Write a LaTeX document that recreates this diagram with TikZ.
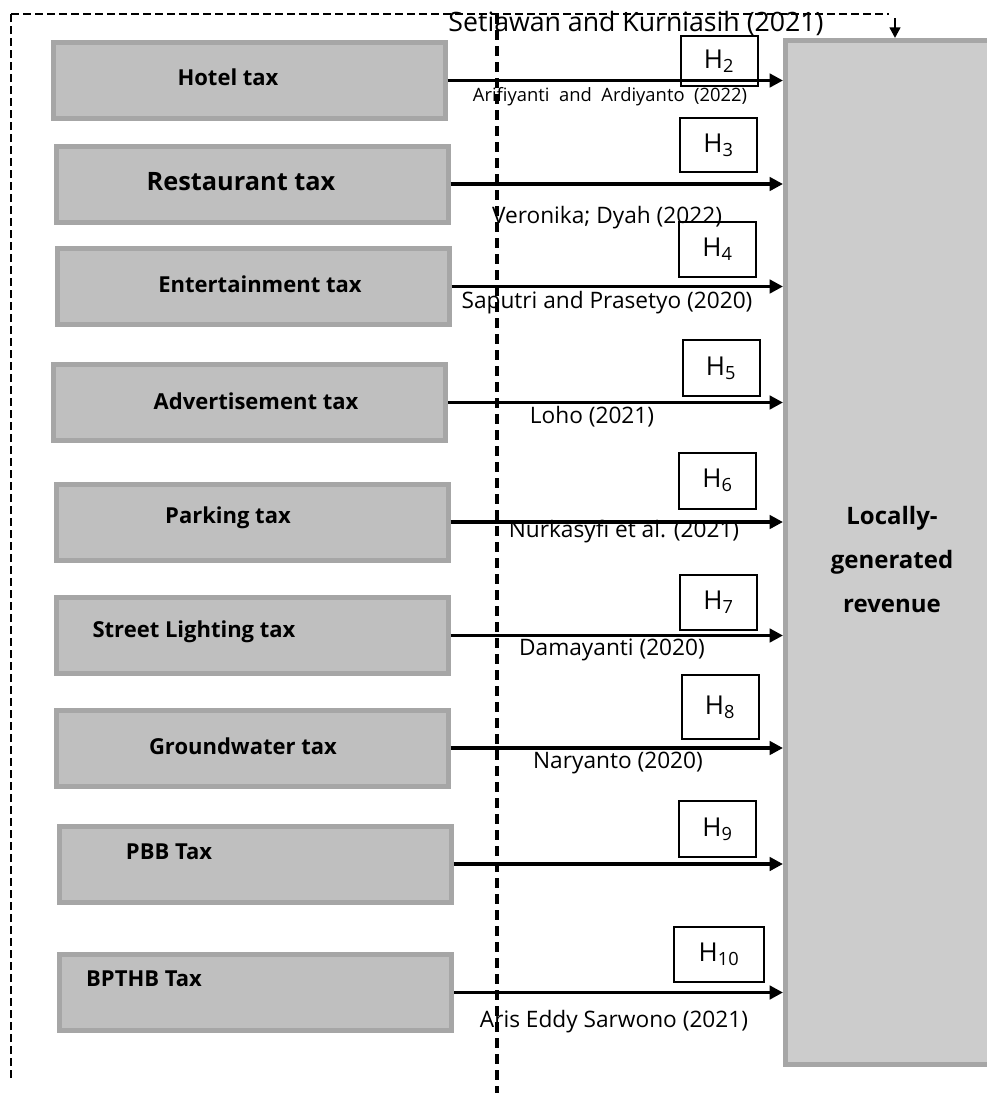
\documentclass[tikz,border=0pt]{standalone}
\usepackage{fontspec}
\setmainfont{Open Sans}
\usetikzlibrary{arrows.meta}
\definecolor{boxfill}{HTML}{BFBFBF}
\definecolor{boxline}{HTML}{A6A6A6}
\definecolor{bigfill}{HTML}{CCCCCC}
\begin{document}
\begin{tikzpicture}[x=0.75pt,y=-0.75pt]
        \tikzstyle{taxbox}=[rectangle,draw=boxline,fill=boxfill,line width=3.75pt,inner sep=0pt,minimum width=294pt,minimum height=57pt]
        \tikzstyle{taxlabel}=[inner sep=0pt,font=\fontsize{16.5}{19}\selectfont\bfseries]
        \tikzstyle{hypo}=[rectangle,draw=black,fill=white,line width=1.5pt,inner sep=0pt,minimum width=57.75pt,minimum height=41pt,font=\fontsize{19.5}{22}\selectfont]
        \tikzstyle{cite}=[inner sep=0pt,font=\fontsize{17}{20}\selectfont]
        \tikzstyle{link}=[draw,line width=2.5pt,-{Triangle[length=10pt,width=10pt]}]
        \useasboundingbox (0,0) rectangle (987,1093);
        % dependent variable
        \node [rectangle,draw=boxline,fill=bigfill,line width=3.75pt,minimum width=159pt,minimum height=768pt] (big) at (891.5,552.5) {};
        \node [align=center,inner sep=0pt,font=\fontsize{18}{33}\selectfont\bfseries] (biglabel) at (892,559) {Locally-\\generated\\revenue};
        % tax boxes
        \node [taxbox] (hotel) at (249,80.5) {};
        \node [taxbox] (resto) at (252,184) {};
        \node [taxbox] (enter) at (253,286.5) {};
        \node [taxbox] (adver) at (249.5,402.5) {};
        \node [taxbox] (park) at (252,522) {};
        \node [taxbox] (light) at (252,635.5) {};
        \node [taxbox] (ground) at (252,748) {};
        \node [taxbox] (pbb) at (255,864) {};
        \node [taxbox] (bpthb) at (255.5,992.5) {};
        \node [taxlabel] (hotell) at (228,77) {Hotel tax};
        \node [taxlabel,font=\fontsize{19}{22}\selectfont\bfseries] (restol) at (241,182) {Restaurant tax};
        \node [taxlabel] (enterl) at (260,284) {Entertainment tax};
        \node [taxlabel] (adverl) at (256,401) {Advertisement tax};
        \node [taxlabel] (parkl) at (228,518) {Parking tax};
        \node [taxlabel] (lightl) at (194,632) {Street Lighting tax};
        \node [taxlabel] (groundl) at (243,746) {Groundwater tax};
        \node [taxlabel] (pbbl) at (169,852) {PBB Tax};
        \node [taxlabel] (bpthbl) at (144,979) {BPTHB Tax};
        % hypotheses
        \node [hypo,minimum height=38pt] (h2) at (719,61) {H\textsubscript{2}};
        \node [hypo] (h3) at (718.5,145) {H\textsubscript{3}};
        \node [hypo] (h4) at (717.5,249.5) {H\textsubscript{4}};
        \node [hypo,minimum height=42pt] (h5) at (721,368) {H\textsubscript{5}};
        \node [hypo,minimum height=42pt] (h6) at (717.5,480.5) {H\textsubscript{6}};
        \node [hypo] (h7) at (718.5,602.5) {H\textsubscript{7}};
        \node [hypo,minimum height=48pt] (h8) at (720,707) {H\textsubscript{8}};
        \node [hypo,minimum height=42pt] (h9) at (717.5,829) {H\textsubscript{9}};
        \node [hypo,minimum width=67.5pt] (h10) at (719,954.5) {H\textsubscript{10}};
        % links
        \foreach \t in {hotel,resto,enter,adver,park,light,ground,pbb,bpthb}
          \path[link] (\t.east) -- (\t.east -| big.west);
        % references
        \node [cite,font=\fontsize{13.8}{16}\selectfont] (c2) at (610,97) {Arifiyanti~ and~ Ardiyanto~ (2022)};
        \node [cite] (c3) at (607,218) {Veronika; Dyah (2022)};
        \node [cite] (c4) at (607,303) {Saputri and Prasetyo (2020)};
        \node [cite] (c5) at (592,417) {Loho (2021)};
        \node [cite] (c6) at (624,532) {Nurkasyfi et al. (2021)};
        \node [cite] (c7) at (612,650) {Damayanti (2020)};
        \node [cite] (c8) at (618,763) {Naryanto (2020)};
        \node [cite] (c10) at (614,1022) {Aris Eddy Sarwono (2021)};
        \node [cite,font=\fontsize{20}{22}\selectfont] (c1) at (636,23) {Setiawan and Kurniasih (2021)};
        % dashed frame
        \coordinate (fbl) at (11,1078);
        \coordinate (ftl) at (11,14);
        \coordinate (ftr) at (889,14);
        \coordinate (fend) at (895,18);
        \coordinate (mtop) at (497,14);
        \coordinate (mbot) at (497,1093);
        \path[draw,line width=1.5pt,dash pattern=on 6pt off 3pt] (fbl) -- (ftl);
        \path[draw,line width=2pt,dash pattern=on 6pt off 3pt] (ftl) -- (ftr);
        \path[link,line width=1.8pt,-{Triangle[length=8pt,width=8pt]}] (fend) -- (fend |- big.north);
        \path[draw,line width=2.4pt,dash pattern=on 7.5pt off 4.5pt] (mtop) -- (mbot);
\end{tikzpicture}
\end{document}
